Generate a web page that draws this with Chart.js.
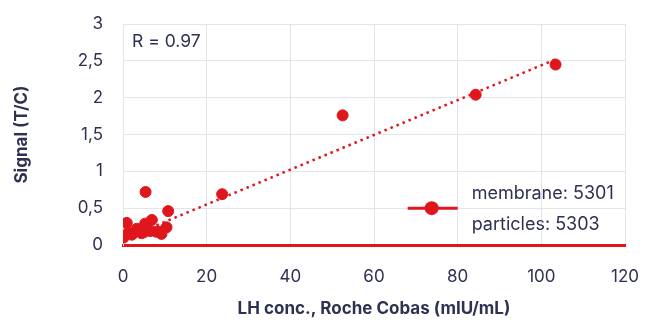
<!DOCTYPE html>
<html>
<head>
<meta charset="utf-8">
<script src="https://cdn.jsdelivr.net/npm/chart.js@4/dist/chart.umd.min.js"></script>
<style>
  html, body { margin: 0; padding: 0; background: #ffffff; }
  #wrap { width: 655px; height: 323px; position: relative; }
</style>
</head>
<body>
<div id="wrap"><canvas id="chart"></canvas></div>
<script>
// LH concentration (Roche Cobas, mIU/mL) vs. test signal (T/C)
const lhConc = [0.1, 0.9, 1.3, 2.1, 2.5, 3.3, 3.9, 4.4, 4.9, 5.3, 5.4, 6.5, 6.9, 8.0, 8.8, 9.2, 10.4, 10.8, 23.7, 52.5, 84.3, 103.4];
const signalTC = [0.10, 0.30, 0.17, 0.14, 0.16, 0.22, 0.20, 0.16, 0.17, 0.29, 0.72, 0.19, 0.34, 0.18, 0.18, 0.15, 0.24, 0.46, 0.69, 1.76, 2.04, 2.45];

// linear fit drawn as a dotted line
const fitX = [8, 103.5];
const fitY = [0.266, 2.523];

const xTicks = [0, 20, 40, 60, 80, 100, 120];
const yTicks = [0, 0.5, 1, 1.5, 2, 2.5, 3];

const legendLines = ['membrane: 5301', 'particles: 5303'];
const corrLabel = 'R = 0.97';

const RED = '#e0161d';
const INK = '#2e3150';
const GRID = '#e4e4ec';
const FONT = 'Inter, "Open Sans", sans-serif';

const points = lhConc.map((x, i) => ({ x, y: signalTC[i] }));
const fit = fitX.map((x, i) => ({ x, y: fitY[i] }));

const annotations = {
  id: 'annotations',
  afterDatasetsDraw(chart) {
    const { ctx, chartArea, scales } = chart;
    ctx.save();
    ctx.fillStyle = INK;
    ctx.font = '17.5px ' + FONT;
    ctx.textBaseline = 'middle';
    ctx.textAlign = 'left';
    ctx.fillText(corrLabel, chartArea.left + 9, chartArea.top + 18);

    // legend: line + marker with two label lines
    const ly = scales.y.getPixelForValue(0.5);
    const lx = scales.x.getPixelForValue(80);
    ctx.strokeStyle = RED;
    ctx.lineWidth = 3;
    ctx.beginPath();
    ctx.moveTo(lx - 50, ly);
    ctx.lineTo(lx, ly);
    ctx.stroke();
    ctx.fillStyle = RED;
    ctx.beginPath();
    ctx.arc(lx - 26, ly, 7, 0, Math.PI * 2);
    ctx.fill();
    ctx.fillStyle = INK;
    ctx.font = '18px ' + FONT;
    ctx.fillText(legendLines[0], lx + 14, ly - 15);
    ctx.fillText(legendLines[1], lx + 14, ly + 16);
    ctx.restore();
  }
};

new Chart(document.getElementById('chart'), {
  type: 'scatter',
  data: {
    datasets: [
      {
        data: fit,
        showLine: true,
        borderColor: RED,
        borderWidth: 2.5,
        borderDash: [2.5, 4],
        pointRadius: 0,
        fill: false
      },
      {
        data: points,
        backgroundColor: RED,
        borderColor: RED,
        pointRadius: 5.5,
        pointHoverRadius: 5.5,
        showLine: false
      }
    ]
  },
  options: {
    responsive: true,
    maintainAspectRatio: false,
    animation: false,
    events: [],
    layout: { padding: { top: 24, right: 30, left: 0, bottom: 0 } },
    plugins: { legend: { display: false }, tooltip: { enabled: false } },
    scales: {
      x: {
        type: 'linear',
        min: 0,
        max: 120,
        afterBuildTicks(scale) { scale.ticks = xTicks.map(v => ({ value: v })); },
        afterFit(scale) {
          scale.height = 78;
          scale.paddingLeft = 0;
          scale.paddingRight = 0;
        },
        grid: { color: GRID, lineWidth: 1, drawTicks: false },
        border: { color: RED, width: 3 },
        ticks: {
          color: INK,
          padding: 22,
          font: { family: FONT, size: 17 },
          callback: v => String(v)
        },
        title: {
          display: true,
          text: 'LH conc., Roche Cobas (mIU/mL)',
          color: INK,
          font: { family: FONT, size: 17, weight: 'bold' },
          padding: { top: 0, bottom: 4 }
        }
      },
      y: {
        type: 'linear',
        min: 0,
        max: 3,
        afterBuildTicks(scale) { scale.ticks = yTicks.map(v => ({ value: v })); },
        afterFit(scale) {
          scale.width = 123;
          scale.paddingTop = 0;
          scale.paddingBottom = 0;
        },
        grid: { color: GRID, lineWidth: 1, drawTicks: false },
        border: { color: GRID, width: 1 },
        ticks: {
          color: INK,
          padding: 20,
          font: { family: FONT, size: 17 },
          callback: v => String(v).replace('.', ',')
        },
        title: {
          display: true,
          text: 'Signal (T/C)',
          color: INK,
          font: { family: FONT, size: 17, weight: 'bold' },
          padding: { top: 12, bottom: 0 }
        }
      }
    }
  },
  plugins: [annotations, {
    id: 'frame',
    beforeDatasetsDraw(chart) {
      const { ctx, chartArea } = chart;
      ctx.save();
      ctx.strokeStyle = GRID;
      ctx.lineWidth = 1;
      ctx.beginPath();
      ctx.moveTo(chartArea.left, chartArea.top + 0.5);
      ctx.lineTo(chartArea.right, chartArea.top + 0.5);
      ctx.stroke();
      ctx.restore();
    }
  }]
});
</script>
</body>
</html>
